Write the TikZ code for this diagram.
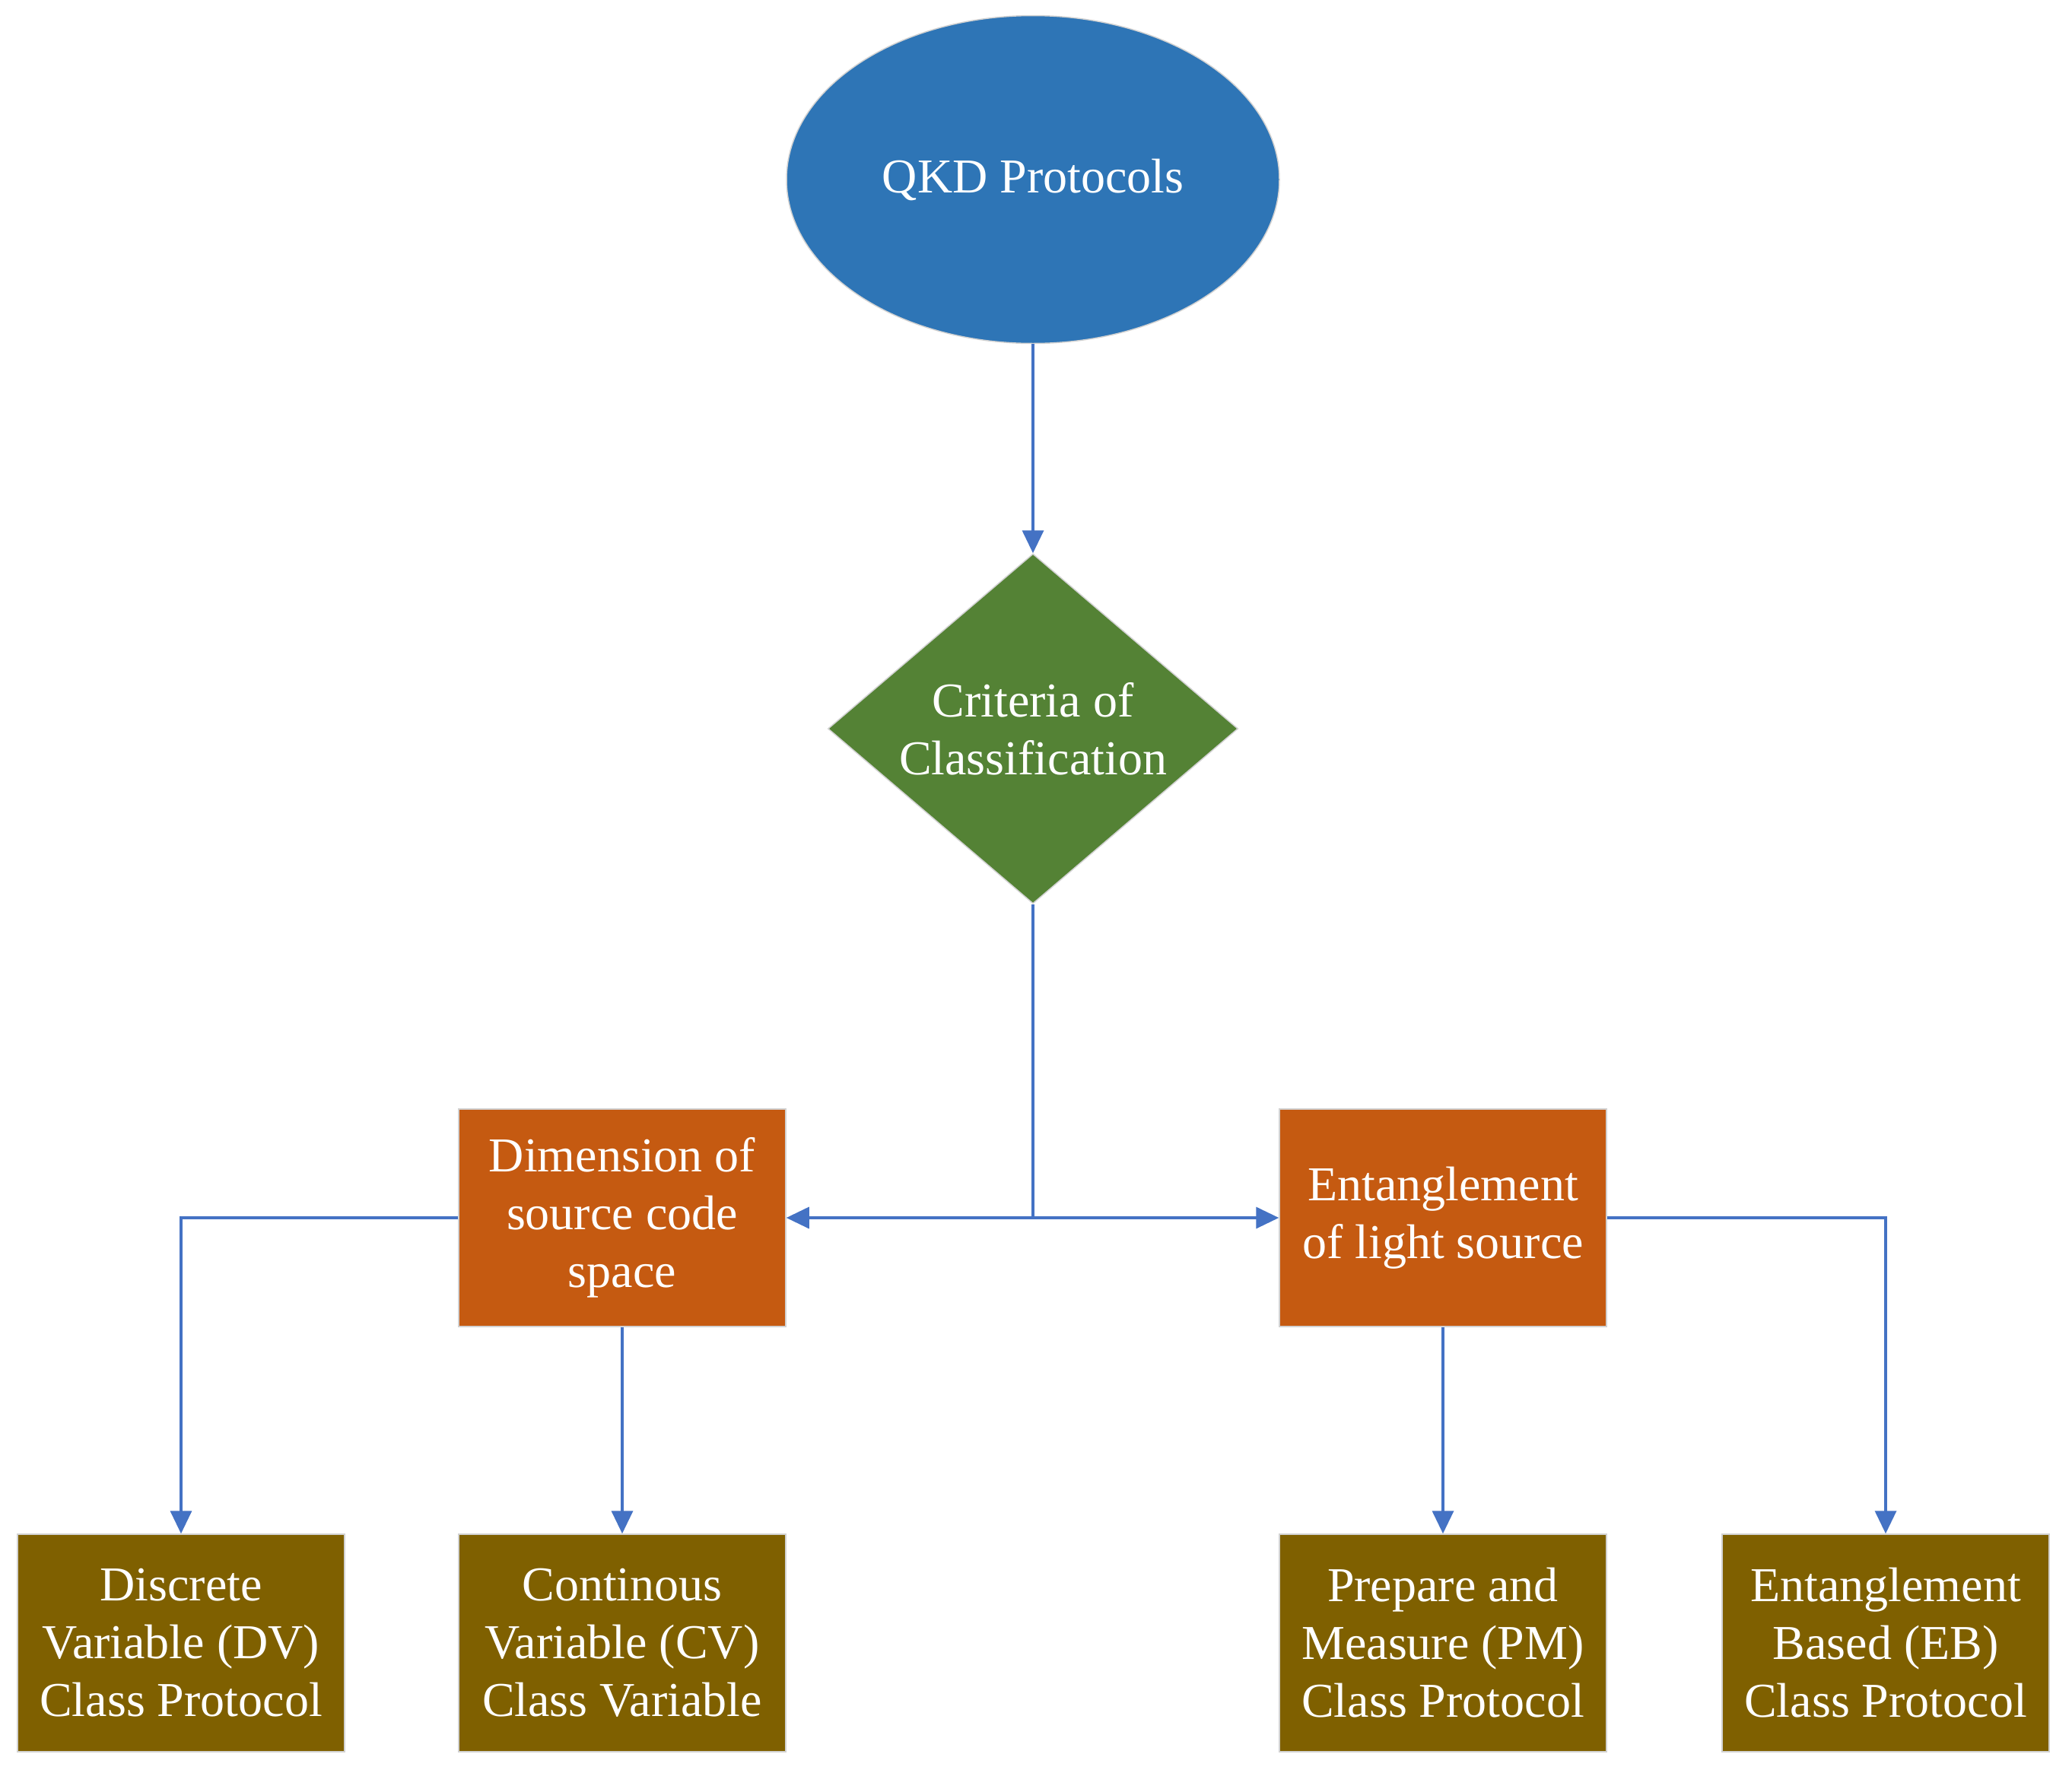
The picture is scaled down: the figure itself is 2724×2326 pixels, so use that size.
\documentclass[tikz,border=0pt]{standalone}
\usepackage{fontspec}
\setmainfont{Liberation Serif}
\usetikzlibrary{shapes.geometric,arrows.meta}
\definecolor{cblue}{HTML}{2E75B6}
\definecolor{cgreen}{HTML}{548235}
\definecolor{corange}{HTML}{C55A11}
\definecolor{colive}{HTML}{7F6000}
\definecolor{cline}{HTML}{4472C4}
\begin{document}
\begin{tikzpicture}[x=1pt,y=-1pt,
  base/.style={text=white, font=\fontsize{64}{76}\selectfont, align=center, draw=gray!35, line width=1.5pt, inner sep=0pt},
  ellip/.style={base, ellipse, fill=cblue, minimum width=648pt, minimum height=431pt},
  dia/.style={base, diamond, fill=cgreen, aspect=1.17, minimum width=539pt, minimum height=460pt},
  obox/.style={base, rectangle, fill=corange, minimum width=430pt, minimum height=286pt},
  gbox/.style={base, rectangle, fill=colive, minimum width=430pt, minimum height=286pt},
  conn/.style={draw=cline, line width=3.5pt, -{Triangle[length=30pt,width=28pt]}},
  plain/.style={draw=cline, line width=3.5pt}
]
\useasboundingbox (0,0) rectangle (2724,2326);
\node[ellip] (qkd) at (1358,236) {QKD Protocols};
\node[dia] (crit) at (1358,958) {Criteria of\\Classification};
\node[obox] (dim) at (818,1601) {Dimension of\\source code\\space};
\node[obox] (ent) at (1897,1601) {Entanglement\\of light source};
\node[gbox] (dv) at (238,2160) {Discrete\\Variable (DV)\\Class Protocol};
\node[gbox] (cv) at (818,2160) {Continous\\Variable (CV)\\Class Variable};
\node[gbox] (pm) at (1897,2160) {Prepare and\\Measure (PM)\\Class Protocol};
\node[gbox] (eb) at (2479,2160) {Entanglement\\Based (EB)\\Class Protocol};
\coordinate (j) at (crit.south |- dim.east);
\draw[conn] (qkd.south) -- (crit.north);
\draw[plain] (crit.south) -- (j);
\draw[conn] (j) -- (dim.east);
\draw[conn] (j) -- (ent.west);
\draw[conn] (dim.west) -| (dv.north);
\draw[conn] (dim.south) -- (cv.north);
\draw[conn] (ent.south) -- (pm.north);
\draw[conn] (ent.east) -| (eb.north);
\end{tikzpicture}
\end{document}
